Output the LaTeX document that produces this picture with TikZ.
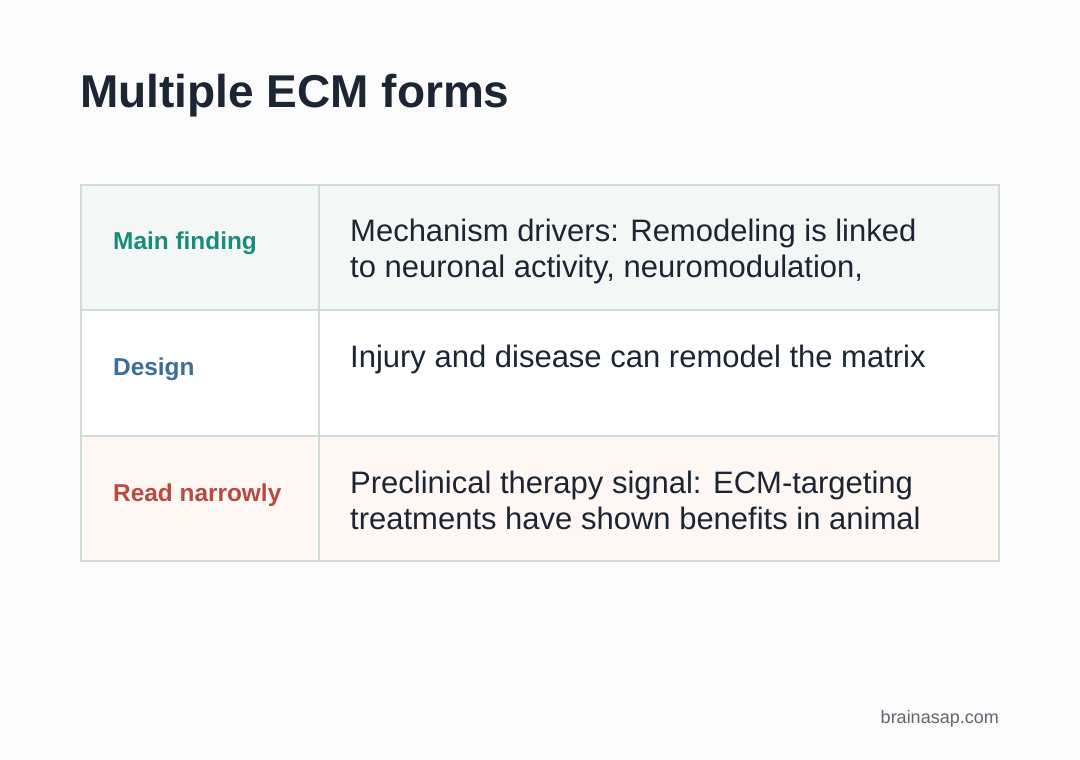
\documentclass[tikz,border=0pt]{standalone}
\usepackage{fontspec}
\setmainfont{Liberation Sans}
\definecolor{bg}{HTML}{FBFBFB}
\definecolor{ink}{HTML}{1B2533}
\definecolor{grid}{HTML}{CFDCD8}
\definecolor{rowA}{HTML}{F3F8F6}
\definecolor{rowC}{HTML}{FFF7F4}
\definecolor{teal}{HTML}{1A8A7A}
\definecolor{blueL}{HTML}{3A6E9A}
\definecolor{redL}{HTML}{B84A3E}
\begin{document}
\begin{tikzpicture}[x=1pt,y=-1pt,
  lab/.style={anchor=base west,inner sep=0pt,font=\fontsize{24.4}{28}\selectfont\bfseries},
  body/.style={anchor=base west,inner sep=0pt,font=\fontsize{31}{36}\selectfont,text=ink,align=left},
  cell/.style={draw=grid,line width=1.5pt}]
\fill[bg] (0,0) rectangle (1080,760);
\useasboundingbox (0,0) rectangle (1080,760);
\node[anchor=base west,inner sep=0pt,font=\fontsize{46}{50}\selectfont\bfseries,text=ink] (title) at (80,107) {Multiple ECM forms};
\fill[rowA] (81,185) rectangle (999,310);
\fill[white] (81,310) rectangle (999,436);
\fill[rowC] (81,436) rectangle (999,561);
\draw[cell] (81,185) rectangle (999,561);
\draw[cell] (81,310) -- (999,310);
\draw[cell] (81,436) -- (999,436);
\draw[cell] (319,185) -- (319,561);
\node[lab,text=teal] (l1) at (113,249.5) {Main finding};
\node[lab,text=blueL] (l2) at (113,375.5) {Design};
\node[lab,text=redL] (l3) at (113,501.5) {Read narrowly};
\node[body] (t1) at (350,277) {Mechanism drivers: Remodeling is linked\\to neuronal activity, neuromodulation,};
\node[body] (t2) at (350,367) {Injury and disease can remodel the matrix};
\node[body] (t3) at (350,529) {Preclinical therapy signal: ECM-targeting\\treatments have shown benefits in animal};
\node[anchor=base east,inner sep=0pt,font=\fontsize{18}{20}\selectfont,text=ink!70] (foot) at (999,723) {brainasap.com};
\end{tikzpicture}
\end{document}
